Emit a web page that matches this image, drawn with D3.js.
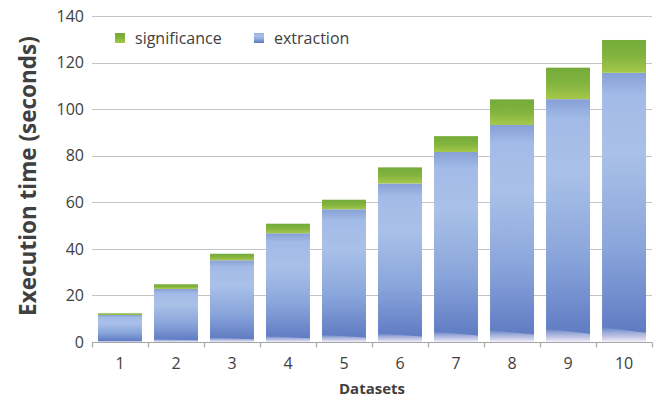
<!DOCTYPE html>
<html>
<head>
<meta charset="utf-8">
<script src="https://cdn.jsdelivr.net/npm/d3@7/dist/d3.min.js"></script>
<style>
  html, body { margin: 0; padding: 0; background: #fff; }
  svg { display: block; font-family: "Open Sans", "Noto Sans", sans-serif; }
</style>
</head>
<body>
<svg id="chart" width="656" height="400"></svg>
<script>
// Stacked execution times per dataset
const datasets = ["1", "2", "3", "4", "5", "6", "7", "8", "9", "10"];
const extraction = [11.6, 22.8, 35.1, 46.7, 57.0, 68.1, 81.6, 93.2, 104.3, 115.6];
const significance = [0.7, 2.0, 2.8, 4.1, 4.1, 6.9, 6.8, 11.0, 13.5, 14.1];
const yTicks = [0, 20, 40, 60, 80, 100, 120, 140];
const seriesNames = ["extraction", "significance"];
const legendOrder = ["significance", "extraction"];

const W = 656, H = 400;
const margin = { top: 16, right: 4, bottom: 58, left: 92 };
const svg = d3.select("#chart");
const defs = svg.append("defs");

// Gradients
const blueGrad = defs.append("linearGradient").attr("id", "blueFill")
  .attr("x1", 0).attr("y1", 0).attr("x2", 0).attr("y2", 1);
[[0, "#869fd6"], [0.08, "#a2bae6"], [0.3, "#a9c1e8"], [0.65, "#8aa5db"], [1, "#5b77c0"]]
  .forEach(([o, c]) => blueGrad.append("stop").attr("offset", o).attr("stop-color", c));

const greenGrad = defs.append("linearGradient").attr("id", "greenFill")
  .attr("x1", 0).attr("y1", 0).attr("x2", 0).attr("y2", 1);
[[0, "#74ab3a"], [0.5, "#82b43e"], [1, "#a6c74a"]]
  .forEach(([o, c]) => greenGrad.append("stop").attr("offset", o).attr("stop-color", c));

const sheenGrad = defs.append("linearGradient").attr("id", "sheenFill")
  .attr("x1", 0).attr("y1", 0).attr("x2", 0).attr("y2", 1);
[[0, "#ffffff", 0], [0.55, "#e4e0f2", 0.65], [1, "#f4f0fa", 1]]
  .forEach(([o, c, a]) => sheenGrad.append("stop").attr("offset", o).attr("stop-color", c).attr("stop-opacity", a));

const colors = { extraction: "url(#blueFill)", significance: "url(#greenFill)" };

const x = d3.scaleBand().domain(datasets)
  .range([margin.left, W - margin.right]).paddingInner(0.215).paddingOuter(0.107);
const y = d3.scaleLinear().domain([0, 140]).range([H - margin.bottom, margin.top]);

// Horizontal gridlines
svg.append("g").selectAll("line").data(yTicks.filter(d => d > 0)).join("line")
  .attr("x1", margin.left).attr("x2", W - margin.right)
  .attr("y1", d => Math.round(y(d)) + 0.5).attr("y2", d => Math.round(y(d)) + 0.5)
  .attr("stroke", "#c4c4c4").attr("stroke-width", 1.2);

// Y tick labels
svg.append("g").selectAll("text").data(yTicks).join("text")
  .attr("x", 84).attr("y", d => y(d)).attr("dy", "0.36em")
  .attr("text-anchor", "end").attr("font-size", 16).attr("fill", "#404040")
  .text(d => d);

// Stacked bars
const rows = datasets.map((d, i) => ({ name: d, extraction: extraction[i], significance: significance[i] }));
const stack = d3.stack().keys(seriesNames)(rows);

const layers = svg.append("g").selectAll("g").data(stack).join("g")
  .attr("fill", s => colors[s.key]);
layers.selectAll("rect").data(s => s).join("rect")
  .attr("x", d => x(d.data.name))
  .attr("width", x.bandwidth())
  .attr("y", d => y(d[1]))
  .attr("height", d => y(d[0]) - y(d[1]));

// Light reflection along the base of each bar
svg.append("g").selectAll("path").data(rows).join("path")
  .attr("fill", "url(#sheenFill)")
  .attr("d", d => {
    const x0 = x(d.name), x1 = x0 + x.bandwidth();
    const base = y(0), h = y(0) - y(d.extraction);
    return `M${x0},${base}L${x0},${base - h * 0.055}L${x1},${base - h * 0.034}L${x1},${base}Z`;
  });

// X axis line with ticks at band boundaries
const axisY = y(0) + 0.5;
svg.append("line").attr("x1", margin.left).attr("x2", W - margin.right)
  .attr("y1", axisY).attr("y2", axisY).attr("stroke", "#a6a6a6").attr("stroke-width", 1.2);
const bounds = datasets.map(d => x(d) - x.step() * x.paddingInner() / 2).concat([W - margin.right]);
svg.append("g").selectAll("line").data(bounds).join("line")
  .attr("x1", d => Math.round(d) + 0.5).attr("x2", d => Math.round(d) + 0.5)
  .attr("y1", axisY).attr("y2", axisY + 5)
  .attr("stroke", "#a6a6a6").attr("stroke-width", 1.2);

// X tick labels
svg.append("g").selectAll("text").data(datasets).join("text")
  .attr("x", d => x(d) + x.bandwidth() / 2).attr("y", 369)
  .attr("text-anchor", "middle").attr("font-size", 16).attr("fill", "#404040")
  .text(d => d);

// Axis titles
svg.append("text").attr("x", 372).attr("y", 394)
  .attr("text-anchor", "middle").attr("font-size", 15).attr("font-weight", "bold")
  .attr("fill", "#404040").text("Datasets");
svg.append("text").attr("transform", "translate(36,176) rotate(-90)")
  .attr("text-anchor", "middle").attr("font-size", 22.5).attr("font-weight", "bold")
  .attr("fill", "#404040").text("Execution time (seconds)");

// Legend
const legendPos = { significance: 115, extraction: 254 };
const legend = svg.append("g").selectAll("g").data(legendOrder).join("g")
  .attr("transform", d => `translate(${legendPos[d]},33)`);
legend.append("rect").attr("width", 10).attr("height", 10)
  .attr("fill", d => colors[d]);
legend.append("text").attr("x", 20).attr("y", 5).attr("dy", "0.36em")
  .attr("font-size", 16).attr("fill", "#404040").text(d => d);
</script>
</body>
</html>
